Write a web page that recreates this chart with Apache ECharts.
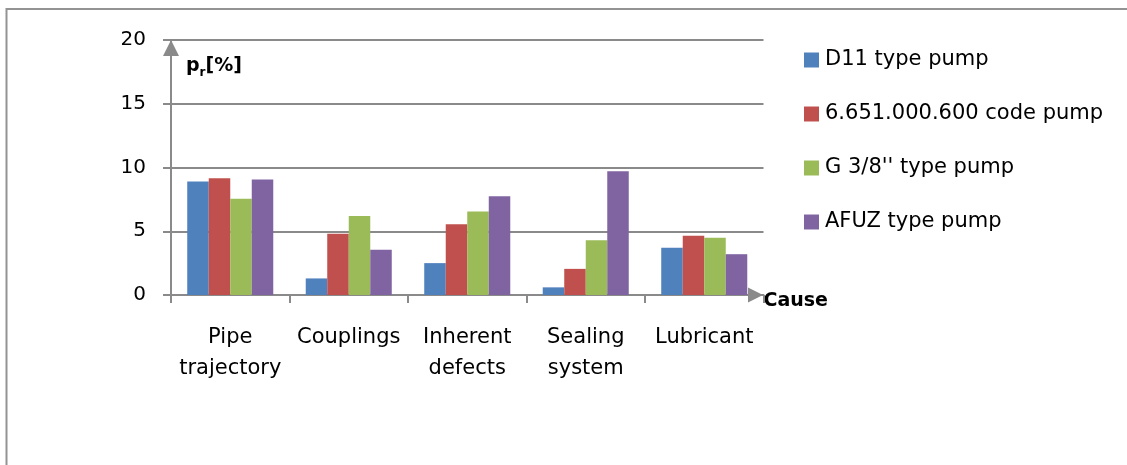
<!DOCTYPE html>
<html>
<head>
<meta charset="utf-8">
<title>Failure causes by pump type</title>
<script src="https://cdn.jsdelivr.net/npm/echarts@6/dist/echarts.min.js"></script>
<style>
  html, body { margin: 0; padding: 0; background: #fff; }
  #chart { width: 1127px; height: 465px; }
</style>
</head>
<body>
<div id="chart"></div>
<script>
// Causes of failure on the category axis
const causes = ['Pipe\ntrajectory', 'Couplings', 'Inherent\ndefects', 'Sealing\nsystem', 'Lubricant'];

// Share p_r [%] of each cause, per pump type
const d11Pump = [8.9, 1.3, 2.5, 0.6, 3.7];
const codePump = [9.15, 4.8, 5.55, 2.05, 4.65];
const g38Pump = [7.55, 6.2, 6.55, 4.3, 4.5];
const afuzPump = [9.05, 3.55, 7.75, 9.7, 3.2];

const seriesNames = ['D11 type pump', '6.651.000.600 code pump', "G 3/8'' type pump", 'AFUZ type pump'];
const seriesColors = ['#4F81BD', '#C0504D', '#9BBB59', '#8064A2'];
const seriesValues = [d11Pump, codePump, g38Pump, afuzPump];

const FONT = 'DejaVu Sans';
const AXIS_GRAY = '#8a8a8a';

const chart = echarts.init(document.getElementById('chart'), null, { renderer: 'canvas' });

chart.setOption({
  animation: false,
  backgroundColor: '#fff',
  textStyle: { fontFamily: FONT, color: '#000' },
  grid: { left: 171, right: 363.5, top: 40, bottom: 170, containLabel: false },
  legend: {
    orient: 'vertical',
    left: 804,
    top: 49,
    padding: 0,
    itemWidth: 15,
    itemHeight: 15,
    itemGap: 32,
    icon: 'rect',
    data: seriesNames,
    textStyle: { fontFamily: FONT, fontSize: 21, color: '#000', lineHeight: 22, padding: [0, 0, 0, 1] }
  },
  xAxis: {
    type: 'category',
    data: causes,
    boundaryGap: true,
    name: '{c|Cause}',
    nameLocation: 'end',
    nameGap: 0,
    nameTextStyle: {
      rich: {
        c: { fontFamily: FONT, fontSize: 19, fontWeight: 'bold', color: '#000', lineHeight: 22, padding: [12, 0, 0, 0] }
      }
    },
    axisLine: {
      show: true,
      symbol: ['none', 'triangle'],
      symbolSize: [15, 15],
      symbolOffset: [0, -8],
      lineStyle: { color: AXIS_GRAY, width: 2 }
    },
    axisTick: { show: true, length: 8, lineStyle: { color: AXIS_GRAY, width: 2 } },
    axisLabel: {
      interval: 0,
      margin: 27,
      fontFamily: FONT,
      fontSize: 21,
      lineHeight: 31,
      color: '#000',
      align: 'center'
    },
    splitLine: { show: false }
  },
  yAxis: {
    type: 'value',
    min: 0,
    max: 20,
    interval: 5,
    axisLine: {
      show: true,
      symbol: ['none', 'triangle'],
      symbolSize: [16, 16],
      symbolOffset: [0, -8],
      lineStyle: { color: AXIS_GRAY, width: 2 }
    },
    axisTick: { show: true, length: 8, lineStyle: { color: AXIS_GRAY, width: 2 } },
    axisLabel: { margin: 25, fontFamily: FONT, fontSize: 20, color: '#000' },
    splitLine: { show: true, lineStyle: { color: AXIS_GRAY, width: 2 } }
  },
  series: seriesValues.map((vals, i) => ({
    name: seriesNames[i],
    type: 'bar',
    data: vals,
    barGap: 0,
    barCategoryGap: '27.4%',
    itemStyle: { color: seriesColors[i] },
    z: 3
  })),
  graphic: [
    {
      type: 'rect',
      z: -10,
      silent: true,
      shape: { x: 6.5, y: 9, width: 1200, height: 500 },
      style: { fill: 'none', stroke: '#939393', lineWidth: 2 }
    },
    {
      type: 'text',
      left: 186,
      top: 57,
      z: 10,
      style: {
        text: '{p|p}{s|r}{p|[%]}',
        rich: {
          p: { fontFamily: FONT, fontSize: 19, fontWeight: 'bold', fill: '#000', lineHeight: 24, verticalAlign: 'middle' },
          s: { fontFamily: FONT, fontSize: 12, fontWeight: 'bold', fill: '#000', lineHeight: 24, verticalAlign: 'bottom' }
        }
      }
    }
  ]
});
</script>
</body>
</html>
